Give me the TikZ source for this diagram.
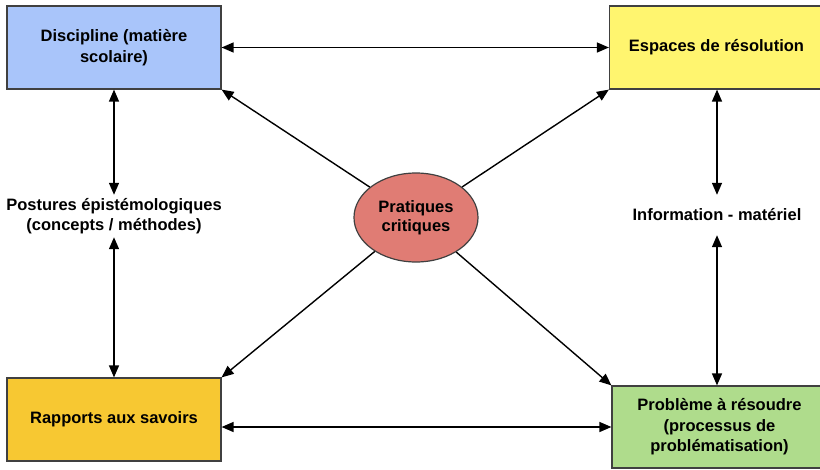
\documentclass[tikz,border=0pt]{standalone}
\usepackage{fontspec}
\setmainfont{Liberation Sans}
\usetikzlibrary{calc}
\usetikzlibrary{shapes.geometric, arrows.meta}
\definecolor{discblue}{HTML}{A9C5FA}
\definecolor{espyellow}{HTML}{FFF56F}
\definecolor{rapgold}{HTML}{F7C832}
\definecolor{probgreen}{HTML}{AFDC8C}
\definecolor{pratred}{HTML}{E07C74}
\tikzset{
BX/.style = {draw=black!75,
        line width=1.2pt,
        minimum width=214pt,
        minimum height=83pt,
        inner sep=0pt,
        align=center,
        font=\bfseries\fontsize{16.5}{20.5}\selectfont
            },
LB/.style = {align=center,
        inner sep=3pt,
        font=\bfseries\fontsize{16.5}{20.5}\selectfont
            },
% connectors
CN/.style = {line width=1.4pt,
        {Triangle[length=12pt,width=10pt]}-%
        {Triangle[length=12pt,width=10pt]}
            },
AR/.style = {line width=1.4pt,
        -{Triangle[length=12pt,width=10pt]}
            }
        }
\begin{document}
\begin{tikzpicture}[x=1pt,y=-1pt]

\clip (0,0) rectangle (820,469);
\fill[white] (0,0) rectangle (820,469);

%%% Boxes:

\node[BX, fill=discblue] (disc) at (114,47.5) {Discipline (matière\\scolaire)};
\node[BX, fill=espyellow] (esp) at (716.5,47.5) {Espaces de résolution};
\node[BX, fill=rapgold] (rap) at (114,419.5) {Rapports aux savoirs};
\node[BX, fill=probgreen, minimum width=215pt, minimum height=82pt] (prob) at (719.5,427)
     {Problème à résoudre\\(processus de\\problématisation)};

\node[ellipse, draw=black!75, line width=1.2pt, fill=pratred,
      minimum width=124pt, minimum height=89pt, inner sep=0pt,
      align=center, font=\bfseries\fontsize{16.5}{19.5}\selectfont]
      (prat) at (416,217.5) {Pratiques\\critiques};

%%% Labels:

\node[LB] (post) at (114,216) {Postures épistémologiques\\(concepts / méthodes)};
\node[LB, minimum height=40pt] (info) at (717,215) {Information - matériel};

%%% Arrows:

\draw[CN] (disc) -- (esp);
\draw[CN] (rap.east |- prob.west) -- (prob.west);

\draw[CN] (disc) -- (post);
\draw[CN] (post) -- (rap);

\draw[CN] (info |- esp.south) -- (info);
\draw[CN] (info) -- (info |- prob.north);

\draw[AR] (prat) -- (disc.south east);
\draw[AR] (prat) -- (esp.south west);
\draw[AR] (prat) -- (rap.north east);
\draw[AR] (prat) -- (prob.north west);

\end{tikzpicture}
\end{document}
